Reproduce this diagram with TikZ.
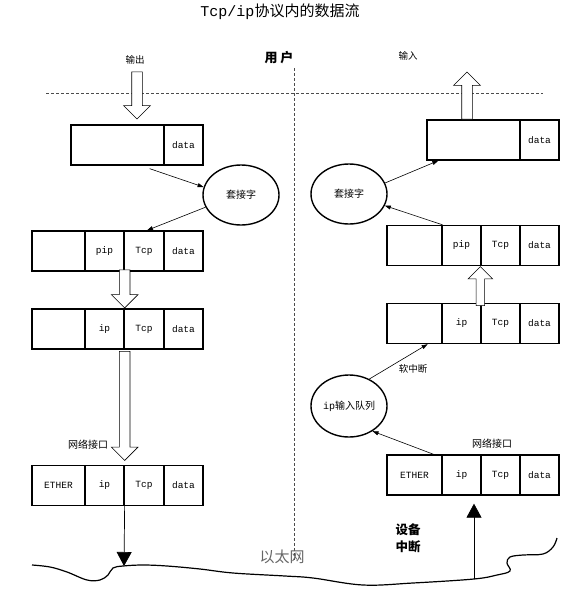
\documentclass[tikz,border=0pt]{standalone}
\usepackage{fontspec}
\setmainfont{Liberation Mono}
\newfontfamily\cjk{Noto Sans CJK SC}
\usetikzlibrary{arrows.meta,shapes.geometric,shapes.arrows}

\tikzset{
  cell/.style={draw, line width=1.3pt, minimum height=40pt, inner sep=0pt,
    font=\fontsize{9.5}{10}\selectfont},
  sock/.style={draw, ellipse, line width=1.4pt, minimum width=76pt,
    minimum height=60pt, inner sep=0pt, font=\fontsize{10}{11}\selectfont\cjk},
  link/.style={line width=0.6pt, -{Triangle[length=6pt,width=4pt]}},
  wire/.style={line width=0.7pt, -{Triangle[length=14pt,width=15pt]}},
  hollow/.style={draw, fill=white, single arrow, line width=0.6pt, inner sep=5pt,
    single arrow head extend=8pt, single arrow tip angle=90},
  tag/.style={inner sep=0pt, font=\fontsize{9.5}{10}\selectfont\cjk},
  sep/.style={black!70, line width=0.8pt, dash pattern=on 3pt off 2pt},
}

\begin{document}
\begin{tikzpicture}[x=1pt,y=-1pt]
  \useasboundingbox (0,0) rectangle (571,590);

  \node [inner sep=0pt, font=\fontsize{15}{17}\selectfont] (title) at (280,12) {Tcp/ip{\cjk 协议内的数据流}};

  % user / kernel separation
  \draw [sep] (46,93) -- (543,93);
  \draw [sep] (294,68) -- (294,560);
  \node [tag] (out) at (135,60) {输出};
  \node [tag] (in) at (408,56) {输入};
  \node [tag, font=\fontsize{13}{14}\selectfont\cjk\bfseries] (user) at (279,58) {用 户};

  % left side: output
  \node [cell, minimum width=93pt] (L1a) at (117.5,145) {};
  \node [cell, minimum width=39pt] (L1b) at (183.5,145) {data};
  \node [sock] (sockL) at (241,195) {套接字};
  \node [cell, minimum width=53pt] (L2a) at (58.5,251) {};
  \node [cell, minimum width=39pt] (L2b) at (104.5,251) {pip};
  \node [cell, minimum width=40pt] (L2c) at (144,251) {Tcp};
  \node [cell, minimum width=39pt] (L2d) at (183.5,251) {data};
  \node [cell, minimum width=53pt] (L3a) at (58.5,329) {};
  \node [cell, minimum width=39pt] (L3b) at (104.5,329) {ip};
  \node [cell, minimum width=40pt] (L3c) at (144,329) {Tcp};
  \node [cell, minimum width=39pt] (L3d) at (183.5,329) {data};
  \node [cell, minimum width=53pt] (L4a) at (58.5,485.5) {ETHER};
  \node [cell, minimum width=39pt] (L4b) at (104.5,485.5) {ip};
  \node [cell, minimum width=40pt] (L4c) at (144,485.5) {Tcp};
  \node [cell, minimum width=39pt] (L4d) at (183.5,485.5) {data};
  \node [tag, font=\fontsize{10}{11}\selectfont\cjk] (nicL) at (88,445) {网络接口};

  \node [hollow, minimum height=47pt, rotate=-90, anchor=tip] (outA) at ([xshift=19.5pt,yshift=5pt]L1a.north) {};
  \node [hollow, minimum height=38pt, rotate=-90, anchor=tip] (outB) at (L3b.north east) {};
  \node [hollow, minimum height=109pt, rotate=-90, anchor=tip] (outC) at ([yshift=4pt]L4b.north east) {};
  \draw [link] ([xshift=-15pt,yshift=-3pt]L1a.south east) -- (sockL.168);
  \draw [link] (sockL.199) -- ([xshift=3pt]L2c.north);

  % right side: input
  \node [cell, minimum width=93pt] (R1a) at (473.5,140) {};
  \node [cell, minimum width=39pt] (R1b) at (539.5,140) {data};
  \node [sock] (sockR) at (349,194) {套接字};
  \node [cell, minimum width=55pt] (R2a) at (414.5,245.5) {};
  \node [cell, minimum width=39pt] (R2b) at (461.5,245.5) {pip};
  \node [cell, minimum width=39pt] (R2c) at (500.5,245.5) {Tcp};
  \node [cell, minimum width=39pt] (R2d) at (539.5,245.5) {data};
  \node [cell, minimum width=55pt] (R3a) at (414.5,323.5) {};
  \node [cell, minimum width=39pt] (R3b) at (461.5,323.5) {ip};
  \node [cell, minimum width=39pt] (R3c) at (500.5,323.5) {Tcp};
  \node [cell, minimum width=39pt] (R3d) at (539.5,323.5) {data};
  \node [sock, minimum height=62pt] (ipq) at (349,406) {{\rmfamily ip}输入队列};
  \node [cell, minimum width=55pt] (R4a) at (414.5,475) {ETHER};
  \node [cell, minimum width=39pt] (R4b) at (461.5,475) {ip};
  \node [cell, minimum width=39pt] (R4c) at (500.5,475) {Tcp};
  \node [cell, minimum width=39pt] (R4d) at (539.5,475) {data};
  \node [tag] (soft) at (413,369) {软中断};
  \node [tag, font=\fontsize{10}{11}\selectfont\cjk] (nicR) at (492,444) {网络接口};

  \node [hollow, minimum height=47pt, rotate=90, anchor=tail] (inA) at ([xshift=-6.5pt]R1a.north) {};
  \node [hollow, minimum height=39pt, rotate=90, anchor=tip, inner sep=4pt] (inB) at (R2c.south west) {};
  \draw [link] (sockR.17) -- ([xshift=12pt]R1a.south west);
  \draw [link] (R2a.north east) -- (sockR.342);
  \draw [link] (ipq.53) -- ([xshift=-15pt]R3a.south east);
  \draw [link] ([xshift=-9pt]R4a.north east) -- (ipq.313);

  % ethernet
  \draw [line width=1.2pt] plot [smooth, tension=0.6] coordinates {
    (32,565) (50,567) (67,572) (87,580) (100,580) (108,575) (113,568) (123,566)
    (143,565) (167,566) (200,569) (233,573) (285,576) (313,578) (363,585)
    (413,583) (474,579) (497,575) (510,571) (507,563) (510,557) (523,555)
    (543,554) (553,547) (557,538)};
  \coordinate (ethL) at (124,566);
  \coordinate (ethR) at (474,579);
  \node [inner sep=0pt, text=black!60, font=\fontsize{15}{16}\selectfont\cjk] (eth) at (282,557) {以太网};
  \node [inner sep=0pt, align=center, font=\fontsize{12.5}{17}\selectfont\cjk\bfseries] (irq) at (408,538.5) {设备\\中断};
  \draw [wire] (L4b.south east) -- (ethL);
  \draw [wire, shorten >=8pt] (ethR) -- ([xshift=12.5pt]R4b.south);
\end{tikzpicture}
\end{document}
